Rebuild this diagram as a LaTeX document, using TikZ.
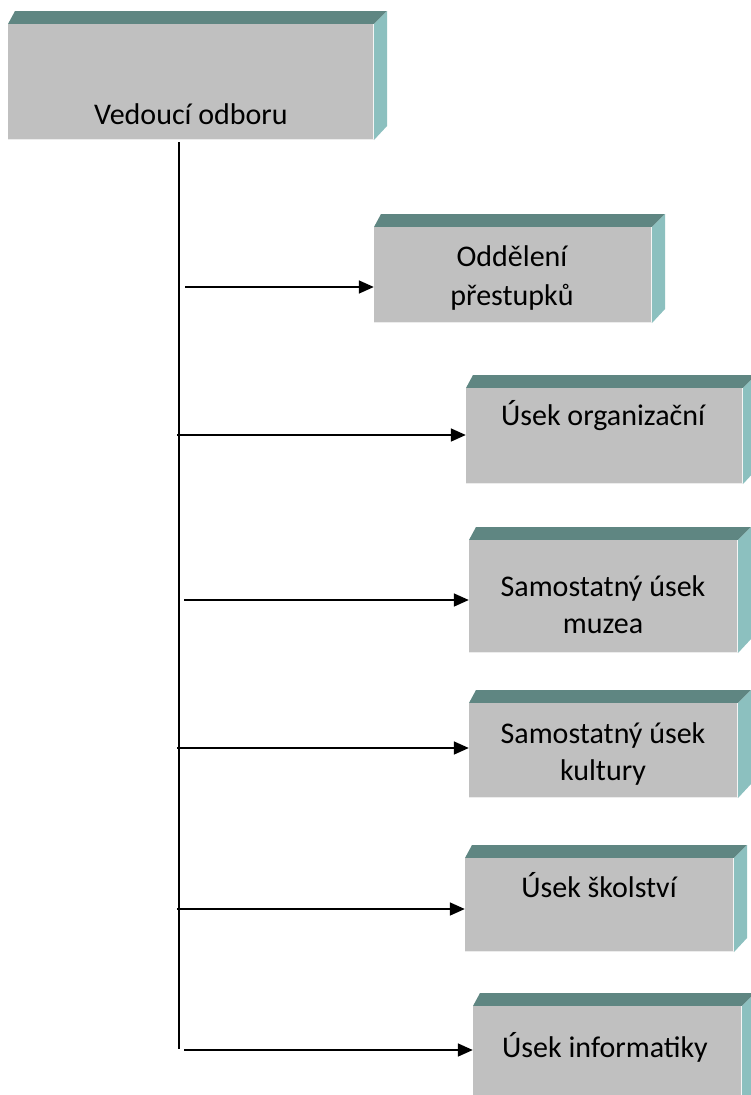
\documentclass[tikz,border=0pt]{standalone}
\usepackage{fontspec}
\setmainfont{Carlito}
\usetikzlibrary{arrows.meta,fit}
\definecolor{facefront}{HTML}{C0C0C0}
\definecolor{facetop}{HTML}{5F8682}
\definecolor{faceside}{HTML}{8CC0BF}
\tikzset{
  front/.style={fill=facefront, inner sep=0pt, draw=none},
  lbl/.style={inner sep=0pt, anchor=base, font=\fontsize{30}{36}\selectfont},
  trunk/.style={line width=2pt, black},
  arr/.style={line width=1.7pt, black, -{Triangle[length=15pt,width=13pt]}, shorten >=0pt},
}
% bevelled box: name, x0, y0, x1, y1 of the front face
\newcommand\orgbox[5]{%
  \fill[facetop] (#2,#3) -- (#2+7,#3-13) -- (#4+13,#3-13) -- (#4,#3) -- cycle;
  \fill[faceside] (#4,#3) -- (#4+13,#3-13) -- (#4+13,#5-14) -- (#4,#5) -- cycle;
  \node[front, fit={(#2,#3) (#4,#5)}] (#1) {};
  \draw[white!92!gray, line width=1.4pt] (#4-0.7,#3) -- (#4-0.7,#5);
  \draw[white!85!gray, line width=1pt] (#2,#5-0.5) -- (#4,#5-0.5);
}
\begin{document}
\begin{tikzpicture}[x=1pt,y=-1pt]
\clip (0,0) rectangle (751,1095);
\fill[white] (0,0) rectangle (751,1095);

% boxes
\orgbox{head}{8}{24}{374}{140}
\orgbox{b1}{374}{227}{652}{323}
\orgbox{b2}{466}{388}{743}{484}
\orgbox{b3}{469}{540}{738}{653}
\orgbox{b4}{469}{703}{738}{798}
\orgbox{b5}{465}{858}{734}{952}
\orgbox{b6}{473}{1006}{742}{1110}

% texts
\node[lbl] (th) at (191,124) {Vedoucí odboru};
\node[lbl] (t1a) at (512,266) {Oddělení};
\node[lbl] (t1b) at (512,305) {přestupků};
\node[lbl] (t2) at (603,425) {Úsek organizační};
\node[lbl] (t3a) at (603,596) {Samostatný úsek};
\node[lbl] (t3b) at (603,633) {muzea};
\node[lbl] (t4a) at (603,743) {Samostatný úsek};
\node[lbl] (t4b) at (603,780) {kultury};
\node[lbl] (t5) at (599,897) {Úsek školství};
\node[lbl] (t6) at (605,1057) {Úsek informatiky};

% trunk line
\coordinate (ttop) at (179,142);
\coordinate (tbot) at (179,1049);
\draw[trunk] (ttop) -- (tbot);

% branches
\coordinate (s1) at (185,287);
\coordinate (s2) at (177,435);
\coordinate (s3) at (184,600);
\coordinate (s4) at (177,748);
\coordinate (s5) at (177,909);
\coordinate (s6) at (184,1050);
\draw[arr] (s1) -- (s1 -| b1.west);
\draw[arr] (s2) -- (s2 -| b2.west);
\draw[arr] (s3) -- (s3 -| b3.west);
\draw[arr] (s4) -- (s4 -| b4.west);
\draw[arr] (s5) -- (s5 -| b5.west);
\draw[arr] (s6) -- (s6 -| b6.west);
\end{tikzpicture}
\end{document}
